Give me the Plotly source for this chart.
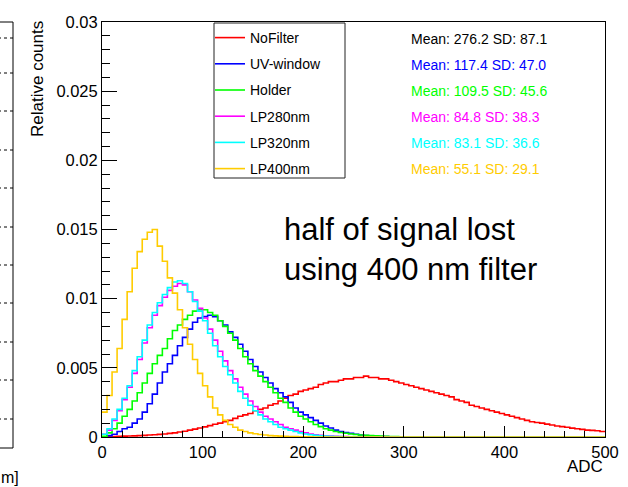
import plotly.graph_objects as go

# ---------------- data ----------------
bin_width = 5
adc_edges = list(range(0, 505, bin_width))  # histogram bin edges (0..500 ADC)

series_names = ["NoFilter", "UV-window", "Holder", "LP280nm", "LP320nm", "LP400nm"]
series_colors = ["#ff0000", "#0000ff", "#00ff00", "#ff00ff", "#00ffff", "#ffcc00"]
stat_colors = ["#000000", "#0000ff", "#00ff00", "#ff00ff", "#00ffff", "#ffcc00"]

means = [276.2, 117.4, 109.5, 84.8, 83.1, 55.1]
sds = [87.1, 47.0, 45.6, 38.3, 36.6, 29.1]

comment_lines = ["half of signal lost", "using 400 nm filter"]

nofilter = [
    0.00002, 0.00003, 0.00004, 0.00005, 0.00006, 0.00007, 0.00008, 0.0001, 0.00012, 0.00014,
    0.00016, 0.00019, 0.00022, 0.00026, 0.0003, 0.00036, 0.00042, 0.0005, 0.00057, 0.00065,
    0.00073, 0.00082, 0.00092, 0.001, 0.0011, 0.0012, 0.00135, 0.0015, 0.0016, 0.0017,
    0.0019, 0.002, 0.0021, 0.0023, 0.0024, 0.0026, 0.0028, 0.003, 0.0031, 0.0033,
    0.0034, 0.0035, 0.0036, 0.0038, 0.0039, 0.004, 0.004, 0.0041, 0.0042, 0.0042,
    0.0043, 0.0043, 0.0044, 0.0043, 0.0043, 0.0042, 0.0042, 0.0041, 0.004, 0.0039,
    0.0038, 0.0037, 0.0036, 0.0035, 0.0034, 0.0033, 0.0032, 0.0031, 0.003, 0.0029,
    0.0027, 0.0026, 0.0025, 0.0023, 0.0022, 0.0021, 0.002, 0.0019, 0.0018, 0.0017,
    0.0016, 0.0015, 0.0014, 0.0013, 0.0012, 0.0011, 0.00105, 0.001, 0.00093, 0.00087,
    0.0008, 0.00075, 0.0007, 0.00064, 0.0006, 0.00055, 0.0005, 0.00048, 0.00045, 0.0004,
]

uv_window = [
    0.00002, 0.0001, 0.0002, 0.0004, 0.0006, 0.0007, 0.001, 0.0013, 0.0018, 0.0024,
    0.0031, 0.0039, 0.0047, 0.0053, 0.0059, 0.0066, 0.0072, 0.0078, 0.0083, 0.0086,
    0.0087, 0.0088, 0.0087, 0.0084, 0.0081, 0.0076, 0.0072, 0.0067, 0.0062, 0.0056,
    0.0051, 0.0047, 0.0043, 0.0039, 0.0035, 0.0032, 0.0029, 0.0025, 0.0021, 0.0018,
    0.0016, 0.0014, 0.0012, 0.001, 0.0008, 0.00065, 0.0005, 0.0004, 0.00033, 0.00027,
    0.0002, 0.00015, 0.00011, 0.00008, 0.00006, 0.00004, 0.00003, 0.00002, 0.00002, 0.00001,
    0.00001, 0.00001, 0.0, 0.0, 0.0, 0.0, 0.0, 0.0, 0.0, 0.0,
    0.0, 0.0, 0.0, 0.0, 0.0, 0.0, 0.0, 0.0, 0.0, 0.0,
    0.0, 0.0, 0.0, 0.0, 0.0, 0.0, 0.0, 0.0, 0.0, 0.0,
    0.0, 0.0, 0.0, 0.0, 0.0, 0.0, 0.0, 0.0, 0.0, 0.0,
]

holder = [
    0.00005, 0.0003, 0.0006, 0.001, 0.0015, 0.002, 0.0026, 0.0032, 0.0039, 0.0046,
    0.0053, 0.0059, 0.0064, 0.0071, 0.0077, 0.0081, 0.0085, 0.0088, 0.0091, 0.0092,
    0.0092, 0.009, 0.0088, 0.0084, 0.008, 0.0075, 0.007, 0.0064, 0.0058, 0.0053,
    0.0048, 0.0044, 0.004, 0.0036, 0.0032, 0.0028, 0.0025, 0.0021, 0.0018, 0.0015,
    0.0013, 0.0011, 0.0009, 0.00075, 0.0006, 0.0005, 0.0004, 0.00033, 0.00027, 0.00022,
    0.00018, 0.00015, 0.00012, 0.0001, 0.00008, 0.00006, 0.00005, 0.00004, 0.00003, 0.00002,
    0.00002, 0.00001, 0.00001, 0.0, 0.0, 0.0, 0.0, 0.0, 0.0, 0.0,
    0.0, 0.0, 0.0, 0.0, 0.0, 0.0, 0.0, 0.0, 0.0, 0.0,
    0.0, 0.0, 0.0, 0.0, 0.0, 0.0, 0.0, 0.0, 0.0, 0.0,
    0.0, 0.0, 0.0, 0.0, 0.0, 0.0, 0.0, 0.0, 0.0, 0.0,
]

lp280 = [
    0.0002, 0.0005, 0.0012, 0.0019, 0.0027, 0.0036, 0.0046, 0.0056, 0.0068, 0.0079,
    0.0088, 0.0095, 0.0101, 0.0106, 0.0109, 0.0111, 0.011, 0.0105, 0.0099, 0.0093,
    0.0086, 0.0078, 0.007, 0.0062, 0.0055, 0.0048, 0.0042, 0.0036, 0.0031, 0.0026,
    0.0022, 0.0018, 0.0015, 0.0013, 0.0011, 0.0009, 0.0007, 0.0006, 0.0005, 0.0004,
    0.0003, 0.00022, 0.00016, 0.00012, 0.00009, 0.00007, 0.00005, 0.00004, 0.00003, 0.00002,
    0.00002, 0.00001, 0.00001, 0.0, 0.0, 0.0, 0.0, 0.0, 0.0, 0.0,
    0.0, 0.0, 0.0, 0.0, 0.0, 0.0, 0.0, 0.0, 0.0, 0.0,
    0.0, 0.0, 0.0, 0.0, 0.0, 0.0, 0.0, 0.0, 0.0, 0.0,
    0.0, 0.0, 0.0, 0.0, 0.0, 0.0, 0.0, 0.0, 0.0, 0.0,
    0.0, 0.0, 0.0, 0.0, 0.0, 0.0, 0.0, 0.0, 0.0, 0.0,
]

lp320 = [
    0.0002, 0.0006, 0.0013, 0.002, 0.0028, 0.0037, 0.0048, 0.0058, 0.007, 0.0081,
    0.009, 0.0097, 0.0103, 0.0108, 0.0112, 0.0113, 0.0111, 0.0105, 0.0098, 0.0091,
    0.0084, 0.0075, 0.0066, 0.0058, 0.0051, 0.0045, 0.0039, 0.0033, 0.0028, 0.0023,
    0.0019, 0.0016, 0.0013, 0.0011, 0.0009, 0.0007, 0.0006, 0.0005, 0.0004, 0.0003,
    0.00022, 0.00016, 0.00012, 0.00009, 0.00007, 0.00005, 0.00004, 0.00003, 0.00002, 0.00002,
    0.00001, 0.0, 0.0, 0.0, 0.0, 0.0, 0.0, 0.0, 0.0, 0.0,
    0.0, 0.0, 0.0, 0.0, 0.0, 0.0, 0.0, 0.0, 0.0, 0.0,
    0.0, 0.0, 0.0, 0.0, 0.0, 0.0, 0.0, 0.0, 0.0, 0.0,
    0.0, 0.0, 0.0, 0.0, 0.0, 0.0, 0.0, 0.0, 0.0, 0.0,
    0.0, 0.0, 0.0, 0.0, 0.0, 0.0, 0.0, 0.0, 0.0, 0.0,
]

lp400 = [
    0.0018, 0.003, 0.0047, 0.0064, 0.0085, 0.0105, 0.0122, 0.0134, 0.0143, 0.0148,
    0.015, 0.0138, 0.0127, 0.0115, 0.0104, 0.0092, 0.0079, 0.0067, 0.0056, 0.0046,
    0.0037, 0.0029, 0.0021, 0.0016, 0.0012, 0.0009, 0.0007, 0.0005, 0.0004, 0.0003,
    0.00024, 0.00018, 0.00014, 0.0001, 0.00008, 0.00006, 0.00005, 0.00004, 0.00003, 0.00002,
    0.00002, 0.00001, 0.0, 0.0, 0.0, 0.0, 0.0, 0.0, 0.0, 0.0,
    0.0, 0.0, 0.0, 0.0, 0.0, 0.0, 0.0, 0.0, 0.0, 0.0,
    0.0, 0.0, 0.0, 0.0, 0.0, 0.0, 0.0, 0.0, 0.0, 0.0,
    0.0, 0.0, 0.0, 0.0, 0.0, 0.0, 0.0, 0.0, 0.0, 0.0,
    0.0, 0.0, 0.0, 0.0, 0.0, 0.0, 0.0, 0.0, 0.0, 0.0,
    0.0, 0.0, 0.0, 0.0, 0.0, 0.0, 0.0, 0.0, 0.0, 0.0,
]

series_values = [nofilter, uv_window, holder, lp280, lp320, lp400]

x_tickvals = [0, 100, 200, 300, 400, 500]
x_ticktext = ["0", "100", "200", "300", "400", "500"]
y_tickvals = [0, 0.005, 0.01, 0.015, 0.02, 0.025, 0.03]
y_ticktext = ["0", "0.005", "0.01", "0.015", "0.02", "0.025", "0.03"]

# ---------------- layout helpers (pixel -> paper) ----------------
W, H = 628, 487
ML, MR, MT, MB = 102, 23, 22, 50
PW, PH = W - ML - MR, H - MT - MB


def px(x):
    return (x - ML) / PW


def py(y):
    return (H - MB - y) / PH


FONT = "Liberation Sans, Arial, Helvetica, sans-serif"

fig = go.Figure()
for name, vals, color in zip(series_names, series_values, series_colors):
    fig.add_trace(go.Scatter(
        x=adc_edges,
        y=vals + [vals[-1]],
        mode="lines",
        line=dict(color=color, width=1.6, shape="hv"),
        name=name,
        legendgroup=name,
        hoverinfo="skip",
    ))

annotations = []
# statistics text
for i, (m, s, c) in enumerate(zip(means, sds, stat_colors)):
    annotations.append(dict(
        x=px(409), y=py(38.5 + 26 * i), xref="paper", yref="paper",
        xanchor="left", yanchor="middle", showarrow=False,
        text=f"Mean: {m:.1f} SD: {s:.1f}",
        font=dict(family=FONT, size=14, color=c),
    ))
# comment text (one two-line block)
annotations.append(dict(
    x=px(282), y=py(249), xref="paper", yref="paper",
    xanchor="left", yanchor="middle", align="left", showarrow=False,
    text="<br>".join(comment_lines), font=dict(family=FONT, size=31, color="black"),
))
# axis titles (ROOT style: aligned to the axis end)
annotations.append(dict(
    x=px(37), y=py(19), xref="paper", yref="paper",
    xanchor="center", yanchor="top", showarrow=False, textangle=-90,
    text="Relative counts", font=dict(family=FONT, size=17, color="black"),
))
annotations.append(dict(
    x=px(605), y=py(466), xref="paper", yref="paper",
    xanchor="right", yanchor="middle", showarrow=False,
    text="ADC", font=dict(family=FONT, size=17, color="black"),
))
# visible fragment of the neighbouring panel's axis title
annotations.append(dict(
    x=px(-1), y=py(477), xref="paper", yref="paper",
    xanchor="left", yanchor="middle", showarrow=False,
    text="m]", font=dict(family=FONT, size=16, color="black"),
))

shapes = []
# legend box
shapes.append(dict(type="rect", xref="paper", yref="paper",
                   x0=px(214), x1=px(345), y0=py(178), y1=py(23),
                   line=dict(color="#222222", width=1), fillcolor="rgba(0,0,0,0)"))
# neighbouring panel fragment (frame and dotted grid)
shapes.append(dict(type="line", xref="paper", yref="paper",
                   x0=px(13), x1=px(13), y0=py(22), y1=py(448),
                   line=dict(color="black", width=1)))
for yy in [22, 448]:
    shapes.append(dict(type="line", xref="paper", yref="paper",
                       x0=px(-2), x1=px(13), y0=py(yy), y1=py(yy),
                       line=dict(color="black", width=1)))
for yy in [38, 73, 111, 150, 188, 227, 265, 303, 342, 380, 419]:
    shapes.append(dict(type="line", xref="paper", yref="paper",
                       x0=px(-2), x1=px(13), y0=py(yy), y1=py(yy),
                       line=dict(color="black", width=1, dash="dot")))

fig.update_layout(
    width=W, height=H,
    margin=dict(l=ML, r=MR, t=MT, b=MB, pad=0, autoexpand=False),
    paper_bgcolor="white", plot_bgcolor="white",
    font=dict(family=FONT, color="black"),
    showlegend=True,
    legend=dict(
        x=px(210), y=py(22), xanchor="left", yanchor="top",
        bgcolor="rgba(0,0,0,0)", borderwidth=0,
        font=dict(family=FONT, size=14, color="black"),
        tracegroupgap=5,
    ),
    xaxis=dict(
        range=[0, 500], tickvals=x_tickvals, ticktext=x_ticktext,
        ticks="inside", ticklen=11, tickwidth=1, tickcolor="black",
        minor=dict(ticks="inside", ticklen=6, dtick=20, tick0=0, tickcolor="black", showgrid=False),
        showline=True, linecolor="black", linewidth=1, mirror=True,
        showgrid=False, zeroline=False,
        tickfont=dict(family=FONT, size=16.5, color="black"),
    ),
    yaxis=dict(
        range=[0, 0.03], tickvals=y_tickvals, ticktext=y_ticktext,
        ticks="inside", ticklen=15, tickwidth=1, tickcolor="black",
        minor=dict(ticks="inside", ticklen=8, dtick=0.001, tick0=0, tickcolor="black", showgrid=False),
        showline=True, linecolor="black", linewidth=1, mirror=True,
        showgrid=False, zeroline=False,
        tickfont=dict(family=FONT, size=16.5, color="black"),
    ),
    annotations=annotations,
    shapes=shapes,
)

fig.write_html("out.html", config={"displayModeBar": False},
               post_script="document.body.style.margin='0px';")
